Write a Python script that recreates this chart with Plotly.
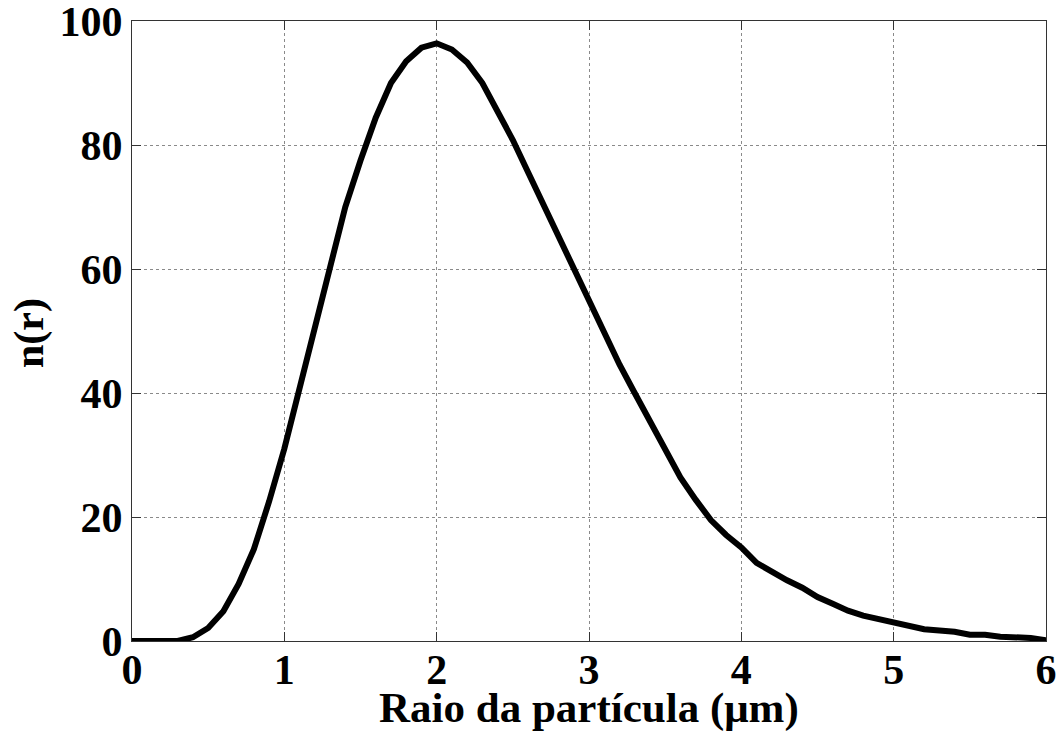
import plotly.graph_objects as go

# Particle radius (µm) and size distribution n(r)
radius = [round(0.1 * i, 1) for i in range(61)]
n_r = [0.0, 0.0, 0.0, 0.0, 0.6, 2.1, 4.8, 9.2, 14.8, 22.5,
       31.0, 41.0, 50.7, 60.4, 70.0, 77.5, 84.4, 90.0, 93.5, 95.7,
       96.4, 95.4, 93.3, 90.0, 85.5, 80.8, 75.6, 70.4, 65.2, 60.0,
       54.6, 49.5, 44.6, 40.0, 35.4, 30.9, 26.4, 22.8, 19.5, 17.1,
       15.1, 12.6, 11.1, 9.8, 8.6, 7.1, 6.0, 4.9, 4.1, 3.5,
       2.9, 2.3, 1.9, 1.7, 1.5, 1.0, 1.0, 0.7, 0.6, 0.5, 0.1]

x_ticks = [0, 1, 2, 3, 4, 5, 6]
y_ticks = [0, 20, 40, 60, 80, 100]

FONT = "Liberation Serif"
W, H = 1060, 740
L, R, T, B = 132, 14, 21, 99
PW, PH = W - L - R, H - T - B
PLOT_BOTTOM = H - B  # page pixel of y=0

fig = go.Figure()
fig.add_trace(go.Scatter(x=radius, y=n_r, mode="lines",
                         line=dict(color="black", width=6),
                         showlegend=False))

axis_common = dict(
    showline=True, linecolor="#333333", linewidth=1, mirror="ticks",
    ticks="inside", ticklen=9, tickcolor="#333333", tickwidth=1,
    showgrid=True, gridcolor="#8a8a8a", griddash="dot", gridwidth=1,
    zeroline=False, automargin=False, ticklabeloverflow="allow",
    tickfont=dict(family=FONT, size=42, color="black", weight="bold"),
)

fig.update_xaxes(range=[0, 6], tickvals=x_ticks, ticktext=[str(v) for v in x_ticks],
                 ticklabelstandoff=-8, **axis_common)
fig.update_yaxes(range=[0, 100], tickvals=y_ticks, ticktext=[str(v) for v in y_ticks],
                 **axis_common)

fig.add_annotation(text="<b>Raio da partícula (μm)</b>", xref="paper", yref="paper",
                   x=0.5, y=-(708 - PLOT_BOTTOM) / PH,
                   xanchor="center", yanchor="middle", showarrow=False,
                   font=dict(family=FONT, size=43, color="black"))
fig.add_annotation(text="<b>n(r)</b>", xref="paper", yref="paper",
                   x=-(L - 30) / PW, y=(PLOT_BOTTOM - 333) / PH,
                   xanchor="center", yanchor="middle", textangle=-90, showarrow=False,
                   font=dict(family=FONT, size=42, color="black"))

fig.update_layout(
    width=W, height=H,
    margin=dict(l=L, r=R, t=T, b=B),
    paper_bgcolor="white", plot_bgcolor="white",
)

fig.write_html("out.html", config={"displayModeBar": False},
               post_script="document.body.style.margin='0';document.body.style.overflow='hidden';")
